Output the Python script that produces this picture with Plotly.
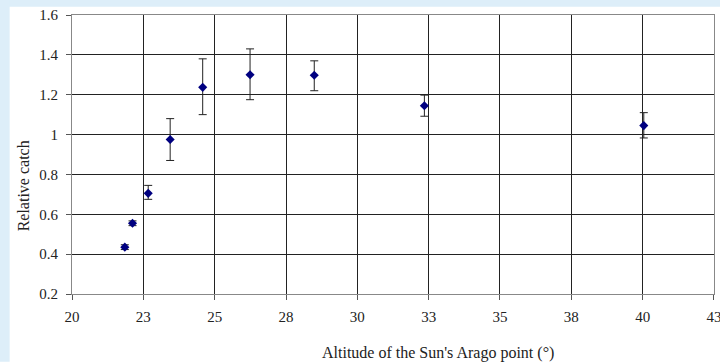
import plotly.graph_objects as go

# Data
altitude = [21.85, 22.12, 22.67, 23.44, 24.58, 26.24, 28.49, 32.35, 40.04]
relative_catch = [0.435, 0.555, 0.705, 0.975, 1.237, 1.30, 1.298, 1.145, 1.045]
err_plus = [0.012, 0.012, 0.04, 0.105, 0.143, 0.13, 0.072, 0.053, 0.065]
err_minus = [0.012, 0.012, 0.03, 0.105, 0.137, 0.125, 0.078, 0.053, 0.062]

x_tickvals = [20, 22.5, 25, 27.5, 30, 32.5, 35, 37.5, 40, 42.5]
x_ticktext = ["20", "23", "25", "28", "30", "33", "35", "38", "40", "43"]
y_tickvals = [0.2, 0.4, 0.6, 0.8, 1.0, 1.2, 1.4, 1.6]
y_ticktext = ["0.2", "0.4", "0.6", "0.8", "1", "1.2", "1.4", "1.6"]

FONT = "Liberation Serif"

fig = go.Figure()
fig.add_trace(go.Scatter(
    x=altitude, y=relative_catch, mode="markers",
    marker=dict(symbol="diamond", size=7, color="#000080"),
    error_y=dict(type="data", symmetric=False, array=err_plus, arrayminus=err_minus,
                 color="#222222", thickness=1, width=4),
    showlegend=False,
))

L, R, T, B = 72.3, 713.6, 15.3, 294.3
W, H = 720, 362
pw, ph = R - L, B - T

def px_x(p):
    return (p - L) / pw

def px_y(p):
    return (B - p) / ph

# light blue strips on top and left
fig.add_shape(type="rect", xref="paper", yref="paper", layer="below",
              x0=px_x(0), x1=px_x(W), y0=px_y(0), y1=px_y(7),
              fillcolor="#DDEEF9", line=dict(width=0))
fig.add_shape(type="rect", xref="paper", yref="paper", layer="below",
              x0=px_x(0), x1=px_x(10), y0=px_y(H), y1=px_y(0),
              fillcolor="#DDEEF9", line=dict(width=0))

fig.add_annotation(text="Altitude of the Sun's Arago point (°)", xref="paper", yref="paper",
                   x=px_x(438), y=px_y(353), showarrow=False,
                   xanchor="center", yanchor="middle",
                   font=dict(family=FONT, size=16, color="#222"))
fig.add_annotation(text="Relative catch", xref="paper", yref="paper",
                   x=px_x(24), y=px_y(186), showarrow=False, textangle=-90,
                   xanchor="center", yanchor="middle",
                   font=dict(family=FONT, size=16, color="#222"))

fig.update_layout(
    width=W, height=H,
    margin=dict(l=L, r=W - R, t=T, b=H - B, autoexpand=False),
    paper_bgcolor="white", plot_bgcolor="white",
    font=dict(family=FONT, size=15, color="#222"),
)
fig.update_xaxes(range=[19.999, 42.501], tickvals=x_tickvals, ticktext=x_ticktext,
                 showgrid=True, gridcolor="#222", gridwidth=1,
                 showline=True, linecolor="#888", linewidth=1, mirror=True,
                 ticks="outside", ticklen=5, tickcolor="#555", zeroline=False,
                 ticklabelstandoff=4, ticklabeloverflow="allow", automargin=False,
                 tickfont=dict(family=FONT, size=15, color="#222"))
fig.update_yaxes(range=[0.2, 1.6], tickvals=y_tickvals, ticktext=y_ticktext,
                 showgrid=True, gridcolor="#222", gridwidth=1,
                 showline=True, linecolor="#888", linewidth=1, mirror=True,
                 ticks="outside", ticklen=5, tickcolor="#555", zeroline=False,
                 ticklabelstandoff=5, automargin=False,
                 tickfont=dict(family=FONT, size=15, color="#222"))

fig.write_html("out.html")
